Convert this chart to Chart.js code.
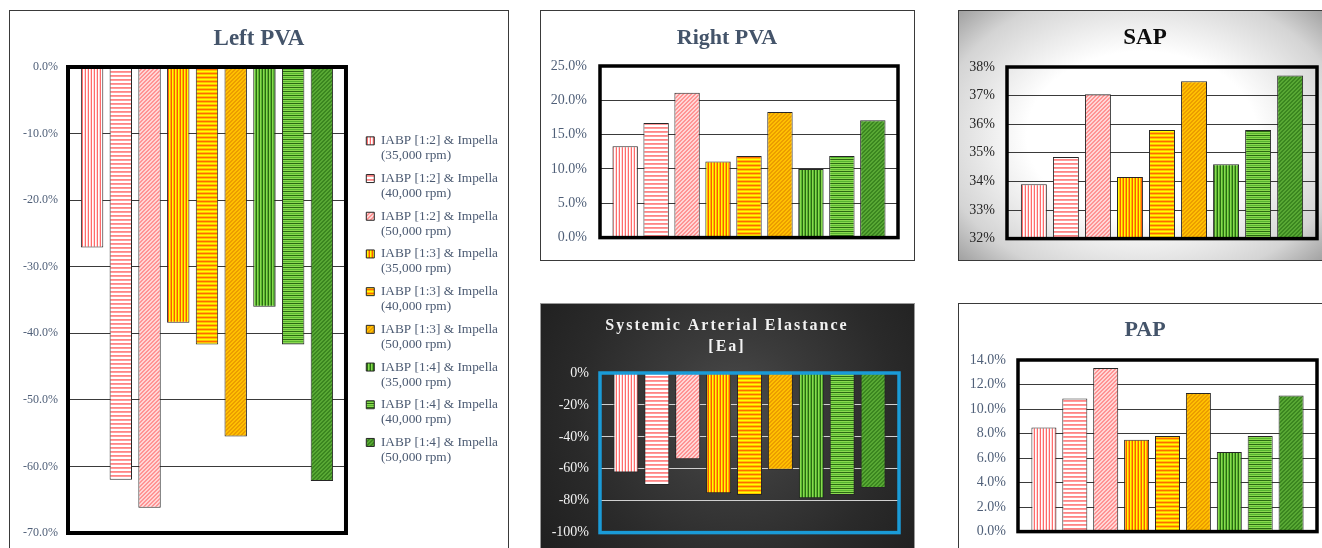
<!DOCTYPE html>
<html>
<head>
<meta charset="utf-8">
<script src="https://cdn.jsdelivr.net/npm/chart.js@4.4.1/dist/chart.umd.min.js"></script>
<style>
html,body{margin:0;padding:0;background:#fff;width:1322px;height:548px;overflow:hidden;position:relative}
.box{position:absolute;box-sizing:border-box;border:1.5px solid #3a3a3a}
canvas{position:absolute}
</style>
</head>
<body>
<div class="box" style="left:9px;top:10px;width:500px;height:560px;background:#fff"></div>
<div class="box" style="left:540px;top:10px;width:375px;height:251px;background:#fff"></div>
<div class="box" style="left:958px;top:10px;width:368px;height:251px;background:radial-gradient(ellipse 70% 75% at 50% 50%, #ffffff 45%, #d4d4d4 80%, #9a9a9a 100%)"></div>
<div class="box" style="left:540px;top:303px;width:375px;height:260px;border:1px solid #9a9a9a;background:radial-gradient(circle at 52% 42%, #4d4d4d 0%, #3b3b3b 30%, #2a2a2a 65%, #1e1e1e 100%)"></div>
<div class="box" style="left:958px;top:303px;width:368px;height:260px;background:#fff"></div>

<canvas id="cLeft" width="498" height="548" style="left:10px;top:11px"></canvas>
<canvas id="cRight" width="372" height="248" style="left:541px;top:11px"></canvas>
<canvas id="cSap" width="372" height="248" style="left:959px;top:11px"></canvas>
<canvas id="cEa" width="372" height="248" style="left:541px;top:304px"></canvas>
<canvas id="cPap" width="372" height="248" style="left:959px;top:304px"></canvas>

<script>
// ---------------- DATA ----------------
const seriesNames = [
  'IABP [1:2] & Impella (35,000 rpm)',
  'IABP [1:2] & Impella (40,000 rpm)',
  'IABP [1:2] & Impella (50,000 rpm)',
  'IABP [1:3] & Impella (35,000 rpm)',
  'IABP [1:3] & Impella (40,000 rpm)',
  'IABP [1:3] & Impella (50,000 rpm)',
  'IABP [1:4] & Impella (35,000 rpm)',
  'IABP [1:4] & Impella (40,000 rpm)',
  'IABP [1:4] & Impella (50,000 rpm)'
];
const leftPVA  = [-27.1, -62.0, -66.2, -38.4, -41.7, -55.5, -36.0, -41.7, -62.2];
const rightPVA = [13.3, 16.7, 21.1, 11.1, 11.9, 18.3, 10.0, 11.9, 17.1];
const sapVals  = [33.9, 34.85, 37.05, 34.15, 35.8, 37.5, 34.6, 35.8, 37.7];
const eaVals   = [-62.4, -70.1, -54.0, -75.3, -76.5, -60.6, -78.4, -76.5, -72.0];
const papVals  = [8.5, 10.85, 13.35, 7.5, 7.8, 11.3, 6.5, 7.8, 11.1];

const leftTicks  = {min: -70, max: 0,  step: 10};
const rightTicks = {min: 0,   max: 25, step: 5};
const sapTicks   = {min: 32,  max: 38, step: 1};
const eaTicks    = {min: -100, max: 0, step: 20};
const papTicks   = {min: 0,   max: 14, step: 2};

// ---------------- STYLE ----------------
const SERIF = "'Liberation Serif', 'Times New Roman', serif";
const patternSpecs = [
  {type: 'v', colors: ['#ff6b6b', '#ffffff', '#ffd8d8']},
  {type: 'h', colors: ['#ff8585', '#ff9c9c', '#ffffff', '#ffffff']},
  {type: 'd', colors: ['#ff9494', '#ffd6d6']},
  {type: 'v', colors: ['#ffff00', '#ffb400', '#ff5a00']},
  {type: 'h', colors: ['#ffff00', '#ffc000', '#ff6a00', '#ffc000']},
  {type: 'd', colors: ['#ffc000', '#eb9d00']},
  {type: 'v', colors: ['#2a6a12', '#8ad94f', '#55b52e']},
  {type: 'h', colors: ['#2a6a12', '#8ad94f', '#55b52e', '#8ad94f']},
  {type: 'd', colors: ['#58a834', '#3b8620']}
];

function makePattern(ctx, spec) {
  const c = document.createElement('canvas');
  let w, h;
  if (spec.type === 'v') { w = spec.colors.length; h = 1; }
  else if (spec.type === 'h') { w = 1; h = spec.colors.length; }
  else { w = 4; h = 4; }
  c.width = w; c.height = h;
  const g = c.getContext('2d');
  for (let x = 0; x < w; x++) {
    for (let y = 0; y < h; y++) {
      let col;
      if (spec.type === 'v') col = spec.colors[x];
      else if (spec.type === 'h') col = spec.colors[y];
      else col = ((x + y) % 4 < 2) ? spec.colors[0] : spec.colors[1];
      g.fillStyle = col;
      g.fillRect(x, y, 1, 1);
    }
  }
  return ctx.createPattern(c, 'repeat');
}

const framePlugin = {
  id: 'frame',
  defaults: {color: '#000', width: 3},
  afterDatasetsDraw(chart, args, o) {
    const {left, top, right, bottom} = chart.chartArea;
    const ctx = chart.ctx;
    ctx.save();
    ctx.strokeStyle = o.color;
    ctx.lineWidth = o.width;
    ctx.strokeRect(left, top, right - left, bottom - top);
    ctx.restore();
  }
};
const spacingPlugin = {
  id: 'titleSpacing',
  beforeDraw(chart, args, o) { if (o && o.spacing) chart.ctx.letterSpacing = o.spacing; },
  beforeDatasetsDraw(chart) { chart.ctx.letterSpacing = '0px'; }
};

function splitName(n) {
  const i = n.indexOf(' (');
  return [n.slice(0, i), n.slice(i + 1)];
}

function build(id, cfg) {
  const canvas = document.getElementById(id);
  const ctx = canvas.getContext('2d');
  const pats = patternSpecs.map(s => makePattern(ctx, s));
  const datasets = seriesNames.map((name, i) => ({
    label: name,
    data: [cfg.values[i]],
    backgroundColor: pats[i],
    borderColor: '#262626',
    borderWidth: 1,
    barPercentage: cfg.barPct,
    categoryPercentage: cfg.catPct
  }));
  const scales = {
    x: {type: 'category', display: false},
    y: {
      min: cfg.ticks.min, max: cfg.ticks.max,
      afterFit(s) { s.width = cfg.yWidth; },
      ticks: {
        stepSize: cfg.ticks.step, padding: cfg.tickPad, color: cfg.tickColor,
        font: {family: SERIF, size: cfg.tickSize}, callback: cfg.fmt, z: cfg.tickZ || 0
      },
      grid: {color: cfg.gridColor, lineWidth: 1, drawTicks: false},
      border: {display: false}
    },
    // empty right-hand gutter between the plot frame and the legend / chart edge
    y2: {
      type: 'linear', position: 'right', display: true,
      grid: {display: false}, ticks: {display: false}, border: {display: false},
      afterFit(s) { s.width = cfg.spacer; }
    }
  };
  const legend = cfg.legend ? {
    display: true, position: 'right', fullSize: false, align: 'center', maxWidth: 220,
    labels: {
      boxWidth: 8, boxHeight: 8, padding: 7.7, color: '#4b5a72',
      font: {family: SERIF, size: 13.3, lineHeight: 15 / 13.3},
      generateLabels(chart) {
        const items = Chart.defaults.plugins.legend.labels.generateLabels(chart);
        return items.map(it => Object.assign({}, it, {text: splitName(seriesNames[it.datasetIndex])}));
      }
    }
  } : {display: false};

  return new Chart(ctx, {
    type: 'bar',
    data: {labels: [''], datasets},
    plugins: cfg.plugins || [framePlugin],
    options: {
      responsive: false, animation: false, events: [],
      layout: {padding: {left: 0, right: 0, top: 0, bottom: cfg.padBottom}},
      scales,
      plugins: {
        legend,
        tooltip: {enabled: false},
        title: {
          display: true, text: cfg.title, color: cfg.titleColor,
          font: {family: SERIF, size: cfg.titleSize, weight: 'bold', lineHeight: cfg.titleLH || 1.2},
          padding: cfg.titlePad
        },
        frame: {color: cfg.frameColor, width: cfg.frameWidth},
        titleSpacing: {spacing: cfg.spacing}
      }
    }
  });
}

const pct1 = v => v.toFixed(1) + '%';
const pct0 = v => v + '%';
const slate = '#4f5f78';
const titleSlate = '#44546a';

build('cLeft', {
  values: leftPVA, ticks: leftTicks, fmt: pct1,
  title: 'Left PVA', titleColor: titleSlate, titleSize: 23, titlePad: {top: 14.2, bottom: 14.2},
  padBottom: 26,
  yWidth: 58, tickPad: 10, tickColor: slate, tickSize: 12,
  gridColor: '#3a3a3a', frameColor: '#000', frameWidth: 4,
  barPct: 0.78, catPct: 0.93, legend: true, spacer: 12.6
});
build('cRight', {
  values: rightPVA, ticks: rightTicks, fmt: pct1,
  title: 'Right PVA', titleColor: titleSlate, titleSize: 22, titlePad: {top: 13.8, bottom: 14.8},
  padBottom: 16,
  yWidth: 59, tickPad: 13, tickColor: slate, tickSize: 14,
  gridColor: '#3a3a3a', frameColor: '#000', frameWidth: 3.5,
  barPct: 0.82, catPct: 0.935, spacer: 15
});
build('cSap', {
  values: sapVals, ticks: sapTicks, fmt: pct0,
  title: 'SAP', titleColor: '#0d0d0d', titleSize: 23, titlePad: {top: 13.2, bottom: 15.2},
  padBottom: 15,
  yWidth: 48, tickPad: 12, tickColor: '#262626', tickSize: 14,
  gridColor: '#3a3a3a', frameColor: '#000', frameWidth: 3.5,
  barPct: 0.81, catPct: 0.93, spacer: 14
});
build('cEa', {
  values: eaVals, ticks: eaTicks, fmt: pct0,
  title: ['Systemic Arterial Elastance', '[Ea]'], titleColor: '#f2f2f2', titleSize: 16, titleLH: 1.3,
  titlePad: {top: 11.6, bottom: 15.8},
  padBottom: 15,
  yWidth: 59, tickPad: 11, tickColor: '#f2f2f2', tickSize: 14, tickZ: 1,
  gridColor: '#d0d0d0', frameColor: '#1a9bd7', frameWidth: 3.5,
  barPct: 0.81, catPct: 0.93, spacing: '2px', spacer: 14,
  plugins: [framePlugin, spacingPlugin]
});
build('cPap', {
  values: papVals, ticks: papTicks, fmt: pct1,
  title: 'PAP', titleColor: titleSlate, titleSize: 22, titlePad: {top: 12.8, bottom: 16.8},
  padBottom: 16,
  yWidth: 59, tickPad: 12, tickColor: slate, tickSize: 14,
  gridColor: '#3a3a3a', frameColor: '#000', frameWidth: 3.5,
  barPct: 0.81, catPct: 0.93, spacer: 14
});
</script>
</body>
</html>
